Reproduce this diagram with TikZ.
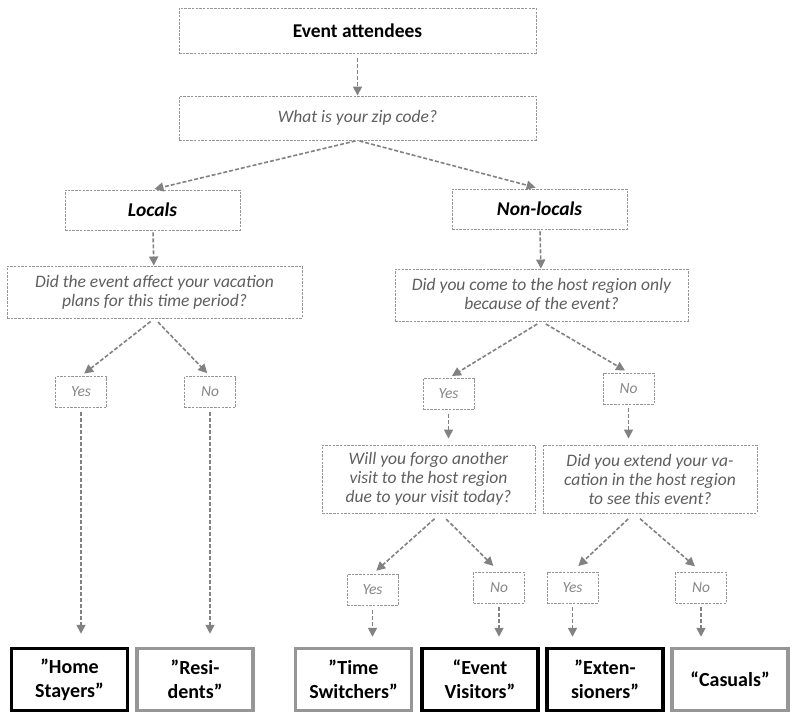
\documentclass[tikz,border=0pt]{standalone}
\usepackage{fontspec}
\setmainfont{Carlito}
\usetikzlibrary{arrows.meta}
\definecolor{boxgray}{RGB}{150,150,150}
\definecolor{asktext}{RGB}{95,95,95}
\definecolor{anstext}{RGB}{135,135,135}
\definecolor{flowgray}{RGB}{130,130,130}
\definecolor{endgray}{RGB}{150,150,150}
\tikzset{
dbox/.style = {rectangle, draw=boxgray, line width=0.9pt,
               dash pattern=on 2.5pt off 1.2pt, minimum width=#1,
               inner sep=0pt, align=center},
dbox/.default = 51pt, % width of a yes/no box
top/.style = {dbox=#1, minimum height=40pt,
              font=\fontsize{19.5}{23}\selectfont\bfseries},
ask/.style = {dbox=#1, text=asktext,
              font=\fontsize{17.5}{19}\selectfont\itshape},
ans/.style = {dbox, minimum height=31pt, text=anstext,
              font=\fontsize{15.5}{18}\selectfont\itshape},
final/.style = {rectangle, draw=#1, line width=3.5pt, minimum width=116pt,
                minimum height=62pt, inner sep=0pt, align=center,
                font=\fontsize{20}{24}\selectfont\bfseries},
final/.default = black,
flow/.style = {draw=flowgray, line width=1.6pt, dash pattern=on 4pt off 2pt,
               -{Triangle[length=9pt,width=9pt]}}
}

\begin{document}
\begin{tikzpicture}[x=1pt, y=-1pt]
	\def \yend{679.5} % row of the six groups
	
	\fill[white] (0,0) rectangle (792,715);
	
	% Top
	\node[top=357, minimum height=45pt] (att) at (357.5,30.5) {Event attendees};
	\node[ask=357, minimum height=44pt] (zip) at (357.5,118) {What is your zip code?};
	
	\node[top=175, font=\fontsize{19.5}{23}\selectfont\bfseries\itshape] (loc) at (152.5,210) {Locals};
	\node[top=175, font=\fontsize{19.5}{23}\selectfont\bfseries\itshape] (nonloc) at (539.5,209) {Non-locals};
	
	% Questions
	\node[ask=295, minimum height=52pt] (qloc) at (154.5,292) {Did the event affect your vacation\\plans for this time period?};
	\node[ask=293, minimum height=52pt] (qnon) at (541.5,295) {Did you come to the host region only\\because of the event?};
	\node[ask=213, minimum height=68pt] (qforgo) at (428.5,479) {Will you forgo another\\visit to the host region\\due to your visit today?};
	\node[ask=214, minimum height=68pt] (qext) at (650,479) {Did you extend your va-\\cation in the host region\\to see this event?};
	
	% Yes / No
	\node[ans] (yesA) at (81,392) {Yes};
	\node[ans] (noA) at (210,392) {No};
	\node[ans] (yesB) at (448.5,394) {Yes};
	\node[ans] (noB) at (628.5,388.5) {No};
	\node[ans] (yesC) at (372.5,590) {Yes};
	\node[ans] (noC) at (499,587.5) {No};
	\node[ans] (yesD) at (572.5,587.5) {Yes};
	\node[ans] (noD) at (701,587.5) {No};
	
	% Groups
	\node[final] (home) at (69.5,\yend) {”Home\\Stayers”};
	\node[final=endgray] (resi) at (195,\yend) {”Resi-\\dents”};
	\node[final=endgray] (time) at (353.5,\yend) {”Time\\Switchers”};
	\node[final] (event) at (480,\yend) {“Event\\Visitors”};
	\node[final] (exten) at (605,\yend) {”Exten-\\sioners”};
	\node[final=endgray] (cas) at (730,\yend) {“Casuals”};
	
	% Arrows
	\draw[flow, shorten <=5pt] (att) -- (zip);
	\draw[flow, shorten <=2pt, shorten >=2pt] (zip.south) -- (loc.north);
	\draw[flow, shorten <=2pt, shorten >=4pt] (zip.south) -- (nonloc.north);
	\draw[flow, shorten <=2pt] (loc) -- (qloc);
	\draw[flow, shorten <=2pt] (nonloc) -- (qnon);
	
	\draw[flow, shorten <=5pt, shorten >=4pt] (qloc.south) -- (yesA.north);
	\draw[flow, shorten <=5pt, shorten >=4pt] (qloc.south) -- (noA.north);
	\draw[flow, shorten <=5pt, shorten >=4pt] (qnon.south) -- (yesB.north);
	\draw[flow, shorten <=5pt, shorten >=4pt] (qnon.south) -- (noB.north);
	
	\draw[flow, shorten <=4pt, shorten >=6pt] (yesB) -- (yesB |- qforgo.north);
	\draw[flow, shorten <=4pt, shorten >=6pt] (noB) -- (noB |- qext.north);
	
	\draw[flow, shorten <=8pt, shorten >=5pt] ([xshift=12pt]qforgo.south) -- (yesC.north);
	\draw[flow, shorten <=8pt, shorten >=8pt] ([xshift=12pt]qforgo.south) -- (noC.north);
	\draw[flow, shorten <=8pt, shorten >=8pt] ([xshift=-16pt]qext.south) -- (yesD.north);
	\draw[flow, shorten <=8pt, shorten >=8pt] ([xshift=-16pt]qext.south) -- (noD.north);
	
	\draw[flow, shorten <=4pt, shorten >=13pt] (yesA) -- (yesA |- home.north);
	\draw[flow, shorten <=4pt, shorten >=13pt] (noA) -- (noA |- resi.north);
	\draw[flow, shorten <=4pt, shorten >=10pt] (yesC) -- (yesC |- time.north);
	\draw[flow, shorten <=4pt, shorten >=10pt] (noC) -- (noC |- event.north);
	\draw[flow, shorten <=4pt, shorten >=10pt] (yesD) -- (yesD |- exten.north);
	\draw[flow, shorten <=4pt, shorten >=10pt] (noD) -- (noD |- cas.north);
	
\end{tikzpicture}
\end{document}
